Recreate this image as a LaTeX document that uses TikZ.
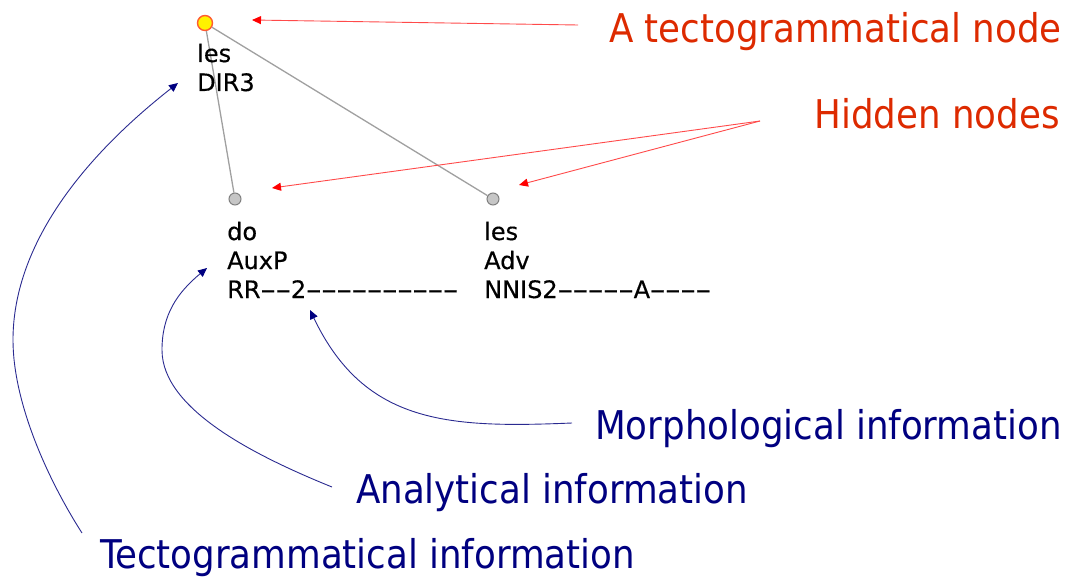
\documentclass[tikz,border=0pt]{standalone}
\usepackage{graphicx}
\usepackage{fontspec}
\setmainfont{DejaVu Sans}[FakeBold=0.4]
\newfontfamily\labfont{DejaVu Sans Condensed}
\usetikzlibrary{arrows.meta}
\definecolor{lblred}{HTML}{DD2A00}
\definecolor{arrred}{HTML}{FF4A4A}
\definecolor{navyb}{HTML}{000080}
\definecolor{curveblue}{HTML}{2A2A90}
\definecolor{edgegray}{HTML}{A0A0A0}
\definecolor{rootborder}{HTML}{FF5A30}
\newcommand\hy{\makebox[15.2pt]{\scalebox{1.9}[1]{-}}}
\tikzset{
  infotext/.style={font=\fontsize{24}{29}\selectfont, anchor=base west, inner sep=0pt},
  lab/.style={font=\labfont\fontsize{39.6}{41}\selectfont, inner sep=0pt},
  redlab/.style={lab, text=lblred},
  bluelab/.style={lab, text=navyb},
  rootnode/.style={circle, fill=yellow, draw=rootborder, line width=1.4pt, minimum size=15pt, inner sep=0pt},
  hidnode/.style={circle, fill=gray!45, draw=gray, line width=1pt, minimum size=12pt, inner sep=0pt},
  edge/.style={draw=edgegray, line width=1.3pt},
  redarrow/.style={draw=arrred, line width=0.9pt, -{Triangle[length=9pt,width=8pt,fill=red,color=red]}},
  bluearrow/.style={draw=curveblue, line width=0.9pt, -{Triangle[length=9pt,width=8pt,fill=navyb,color=navyb]}}
}
\begin{document}
\begin{tikzpicture}[x=1pt,y=-1pt]
\useasboundingbox (0,0) rectangle (1068,586);
% tree nodes
\node[rootnode] (root) at (205,23) {};
\node[hidnode] (h1) at (235,199) {};
\node[hidnode] (h2) at (493,199) {};
\draw[edge] (root) -- (h1);
\draw[edge] (root) -- (h2);
% node texts
\node[infotext] (r1) at (197,62) {les};
\node[infotext] (r2) at (197,91) {DIR3};
\node[infotext] (d1) at (227,240) {do};
\node[infotext] (d2) at (227,269) {AuxP};
\node[infotext] (d3) at (227,298) {RR\hy\hy2\hy\hy\hy\hy\hy\hy\hy\hy\hy\hy};
\node[infotext] (l1) at (484,240) {les};
\node[infotext] (l2) at (484,269) {Adv};
\node[infotext] (l3) at (484,298) {NNIS2\hy\hy\hy\hy\hy A\hy\hy\hy\hy};
% labels
\node[redlab, anchor=base east] (ltn) at (1062,43) {A tectogrammatical node};
\node[redlab, anchor=base east] (lhn) at (1060,128) {Hidden nodes};
\node[bluelab, anchor=base east] (lmi) at (1062,439) {Morphological information};
\node[bluelab, anchor=base west] (lai) at (356,503) {Analytical information};
\node[bluelab, anchor=base west] (lti) at (100,568) {Tectogrammatical information};
% red arrows
\coordinate (a1s) at (578,25);
\coordinate (a1e) at (252,20);
\coordinate (hs) at (760,121);
\coordinate (he1) at (272,188);
\coordinate (he2) at (519,185);
\draw[redarrow] (a1s) -- (a1e);
\draw[redarrow] (hs) -- (he1);
\draw[redarrow] (hs) -- (he2);
% blue curves
\coordinate (t1s) at (82,533);
\coordinate (t1m) at (13,340);
\coordinate (t1e) at (178,83);
\coordinate (a2s) at (332,487);
\coordinate (a2m) at (162,350);
\coordinate (a2e) at (207,268);
\coordinate (m3s) at (572,423);
\coordinate (m3e) at (310,310);
\draw[bluearrow] (t1s) .. controls (45,475) and (13,400) .. (t1m)
                       .. controls (13,250) and (76,163) .. (t1e);
\draw[bluearrow] (a2s) .. controls (258,457) and (162,410) .. (a2m)
                       .. controls (162,315) and (177,293) .. (a2e);
\draw[bluearrow] (m3s) .. controls (450,428) and (365,425) .. (m3e);
\end{tikzpicture}
\end{document}
